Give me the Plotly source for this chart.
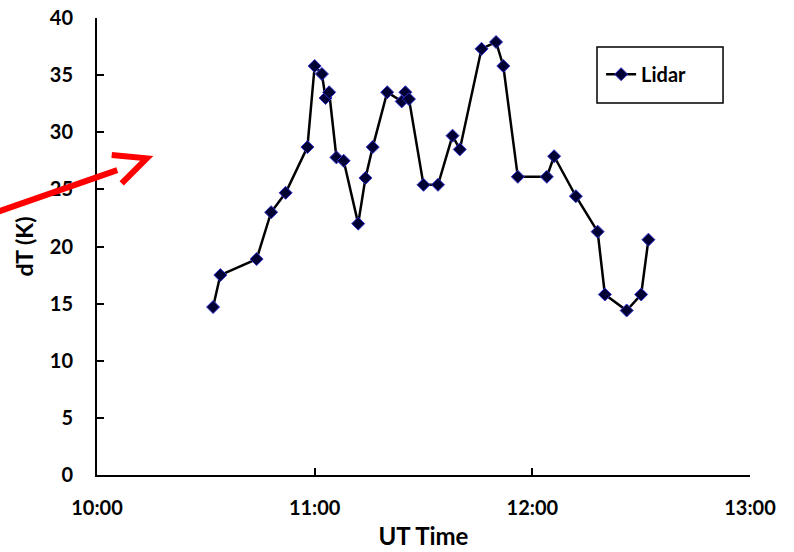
import plotly.graph_objects as go

times = ["10:32", "10:34", "10:44", "10:48", "10:52", "10:58", "11:00", "11:02", "11:03", "11:04",
         "11:06", "11:08", "11:12", "11:14", "11:16", "11:20", "11:24", "11:25", "11:26", "11:30",
         "11:34", "11:38", "11:40", "11:46", "11:50", "11:52", "11:56", "12:04", "12:06", "12:12",
         "12:18", "12:20", "12:26", "12:30", "12:32"]
dT = [14.7, 17.5, 18.9, 23.0, 24.7, 28.7, 35.8, 35.1, 33.0, 33.5,
      27.8, 27.5, 22.0, 26.0, 28.7, 33.5, 32.7, 33.5, 32.9, 25.4,
      25.4, 29.7, 28.5, 37.3, 37.9, 35.8, 26.1, 26.1, 27.9, 24.4,
      21.3, 15.8, 14.4, 15.8, 20.6]
series_name = "Lidar"
x_tick_labels = ["10:00", "11:00", "12:00", "13:00"]

day = "2000-01-01 "
x = [day + t for t in times]
tickvals = [day + t for t in x_tick_labels]

FONT = "Lato"

fig = go.Figure()
fig.add_trace(go.Scatter(
    x=x, y=dT, mode="lines+markers", name=series_name,
    line=dict(color="black", width=2.5),
    marker=dict(symbol="diamond", size=10, color="#000033",
                line=dict(color="#3030d0", width=1)),
))

fig.update_layout(
    template="none",
    width=794, height=552,
    margin=dict(l=97, r=44, t=18, b=77, autoexpand=False),
    plot_bgcolor="white", paper_bgcolor="white",
    font=dict(family=FONT, color="black"),
    showlegend=True,
    legend=dict(x=0.772, y=0.877, xanchor="left", yanchor="middle",
                bgcolor="rgba(0,0,0,0)", borderwidth=0,
                font=dict(family=FONT, size=20, weight="bold"),
                itemwidth=30),
    xaxis=dict(
        type="date", range=[day + "10:00", day + "13:00"],
        tickvals=tickvals, ticktext=x_tick_labels,
        showgrid=False, zeroline=False, automargin=False,
        showline=True, linecolor="black", linewidth=2,
        ticks="inside", ticklen=7, tickwidth=2, tickcolor="black",
        ticklabelstandoff=14,
        tickfont=dict(family=FONT, size=20, weight="bold"),
        title=dict(text="UT Time", font=dict(family=FONT, size=24, weight="bold"), standoff=10),
    ),
    yaxis=dict(
        range=[0, 40], dtick=5,
        showgrid=False, zeroline=False, automargin=False,
        showline=True, linecolor="black", linewidth=2,
        ticks="inside", ticklen=7, tickwidth=2, tickcolor="black",
        ticklabelstandoff=18,
        tickfont=dict(family=FONT, size=20, weight="bold"),
        title=dict(text="dT (K)", font=dict(family=FONT, size=23, weight="bold"), standoff=10),
    ),
    shapes=[
        # legend box
        dict(type="rect", xref="paper", yref="paper",
             x0=0.7657, x1=0.9587, y0=0.814, y1=0.9365,
             line=dict(color="black", width=1.5), fillcolor="rgba(0,0,0,0)", layer="above"),
        # red arrow shaft
        dict(type="line", xref="paper", yref="paper",
             x0=-0.16, y0=0.572, x1=0.031, y1=0.667,
             line=dict(color="red", width=6), layer="above"),
        # red arrow head (open chevron)
        dict(type="path", xref="paper", yref="paper",
             path="M 0.0225 0.700 L 0.0761 0.693 L 0.0378 0.638",
             line=dict(color="red", width=6), layer="above"),
    ],
)

fig.write_html("out.html",
               config={"displayModeBar": False},
               post_script="document.body.style.margin='0';document.body.style.overflow='hidden';")
